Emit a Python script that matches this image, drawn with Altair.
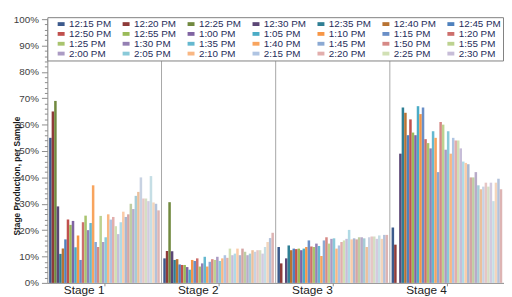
import altair as alt
import pandas as pd

series = ["12:15 PM", "12:20 PM", "12:25 PM", "12:30 PM", "12:35 PM", "12:40 PM", "12:45 PM",
          "12:50 PM", "12:55 PM", "1:00 PM", "1:05 PM", "1:10 PM", "1:15 PM", "1:20 PM",
          "1:25 PM", "1:30 PM", "1:35 PM", "1:40 PM", "1:45 PM", "1:50 PM", "1:55 PM",
          "2:00 PM", "2:05 PM", "2:10 PM", "2:15 PM", "2:20 PM", "2:25 PM", "2:30 PM",
          "2:35 PM", "2:40 PM", "2:45 PM", "2:50 PM", "2:55 PM", "3:00 PM", "3:05 PM",
          "3:10 PM", "3:15 PM", "3:20 PM", "3:25 PM", "3:30 PM", "3:35 PM", "3:40 PM",
          "3:45 PM", "3:50 PM"]
legend_series = series[:28]

stages = ["Stage 1", "Stage 2", "Stage 3", "Stage 4"]

# percent values per stage, one per series
stage1 = [55, 65, 69, 29, 11, 13, 16.5, 24, 22, 23.5, 13.5, 18, 8.7, 23, 25.5, 20, 22.7,
          37, 15.5, 13.6, 25.4, 15.5, 17.3, 26, 24, 25, 21.5, 18.5, 23, 27, 25, 26, 30,
          28, 33, 34.5, 40, 32, 32, 31, 40.5, 30.5, 30, 27.5]
stage2 = [9.3, 12.1, 30.6, 12, 8.7, 9, 7, 6.8, 6.8, 6, 5, 8.7, 8.3, 9.3, 6.2, 7.4, 9.9,
          6.2, 8, 9, 8.7, 9.9, 8.3, 9.3, 10.5, 9.5, 13, 10.5, 11.1, 13, 10.5, 13, 11.8,
          10.5, 11.1, 12.4, 11.8, 12.4, 12.4, 11.1, 13.6, 15.5, 17, 19]
stage3 = [13.6, 7.4, 0, 9.3, 14.2, 12.4, 13, 12.8, 13, 12.4, 13, 13.6, 16.1, 13.8, 13.6,
          14.9, 14, 10.2, 16.1, 17.3, 14.9, 16.7, 16.9, 13, 14.2, 15.5, 16.1, 16.7, 20.1,
          16.5, 16.9, 16.5, 17.3, 17.3, 16.9, 13.6, 17.3, 17.6, 17.6, 16.7, 18, 16.7,
          18.2, 18.2]
stage4 = [21, 14.5, 0, 49, 66.5, 64.5, 56, 62, 57, 56, 67, 64, 66.5, 54.5, 53, 51, 57.5,
          55, 42, 61, 60, 50.5, 57.5, 49, 55, 54, 54, 51, 46, 45.5, 45, 40, 40, 42, 37,
          35.5, 36.5, 38, 36.5, 38, 31, 38, 39.5, 35.5]

colors = ["#3C5A8C", "#8E3B39", "#71893F", "#5C4776", "#2F7F94", "#B87333",
          "#4F81BD", "#C0504D", "#9BBB59", "#8064A2", "#4BACC6", "#F79646",
          "#6A8FC7", "#CD6F6C", "#A9C46E", "#9480B3", "#65B8CF", "#F8A45E",
          "#8BA9D3", "#D68986", "#BDD290", "#AB9BC4", "#8ACAD9", "#F9B783",
          "#AFC4E2", "#E2AEAC", "#D1E0B4", "#C7BDD8", "#B0DAE5", "#FBCCA8",
          "#A9B8D0", "#D5A5A4", "#BFCDA3", "#B8ABC9", "#A6CCD6", "#EBC09C",
          "#C8D2E2", "#E6C6C5", "#D5DEC4", "#D3CADF", "#C5DEE5", "#F3D5BC",
          "#B3C2DA", "#DDB4B3"]

rows = []
for stage, vals in zip(stages, [stage1, stage2, stage3, stage4]):
    for s, v in zip(series, vals):
        rows.append({"Stage": stage, "Series": s, "Value": v / 100.0})
df = pd.DataFrame(rows)

ytick_values = [i / 50 for i in range(51)]
major_test = "round(datum.value * 100) % 10 == 0"

bars = alt.Chart(df).mark_bar().encode(
    x=alt.X("Stage:N", sort=stages,
            scale=alt.Scale(paddingInner=0, paddingOuter=0),
            axis=alt.Axis(title=None, labelAngle=0, labelFont="Liberation Sans",
                          labelFontSize=12, labelColor="#222222", labelPadding=4,
                          domainColor="#8c8c8c", tickColor="#8c8c8c", tickSize=3)),
    xOffset=alt.XOffset("Series:N", sort=series,
                        scale=alt.Scale(paddingInner=0, paddingOuter=0.7)),
    y=alt.Y("Value:Q", scale=alt.Scale(domain=[0, 1]),
            axis=alt.Axis(values=ytick_values, format=".0%",
                          labelExpr=major_test + " ? datum.label : ''",
                          labelOverlap=False, labelFont="Liberation Sans",
                          labelFontSize=10, labelColor="#404040", labelPadding=3,
                          tickSize={"condition": {"test": major_test, "value": 6}, "value": 3},
                          tickColor="#8c8c8c", domainColor="#8c8c8c", grid=False,
                          title="Stage Production, per Sample",
                          titleFont="Liberation Sans", titleFontSize=8.5,
                          titleFontWeight="bold", titleColor="#1a1a1a",
                          titleBaseline="middle", titleX=-31, titleY=159)),
    color=alt.Color("Series:N",
                    scale=alt.Scale(domain=series, range=colors),
                    legend=alt.Legend(title=None, orient="none", legendX=0, legendY=-2,
                                      direction="horizontal", columns=7,
                                      values=legend_series,
                                      symbolType="M-1,-0.55L1,-0.55L1,0.55L-1,0.55Z",
                                      symbolSize=50, symbolStrokeWidth=0,
                                      symbolOffset=7,
                                      labelFont="Liberation Sans", labelFontSize=10,
                                      labelColor="#1F2D5A", labelOffset=3,
                                      labelLimit=80,
                                      strokeColor="#7f7f7f", fillColor="white",
                                      padding=2, rowPadding=0, columnPadding=3,
                                      gridAlign="all")),
)

seps = alt.Chart(pd.DataFrame({"Stage": stages[1:]})).mark_rule(
    color="#a6a6a6", strokeWidth=1
).encode(x=alt.X("Stage:N", sort=stages, bandPosition=0))

chart = alt.layer(seps, bars).properties(
    width=464, height=268,
    autosize=alt.AutoSizeParams(type="none"),
    padding={"left": 40, "top": 9, "right": 0, "bottom": 12},
    background="white",
).configure_view(strokeWidth=0)

chart.save("out.html", embed_options={"renderer": "svg", "actions": False})
